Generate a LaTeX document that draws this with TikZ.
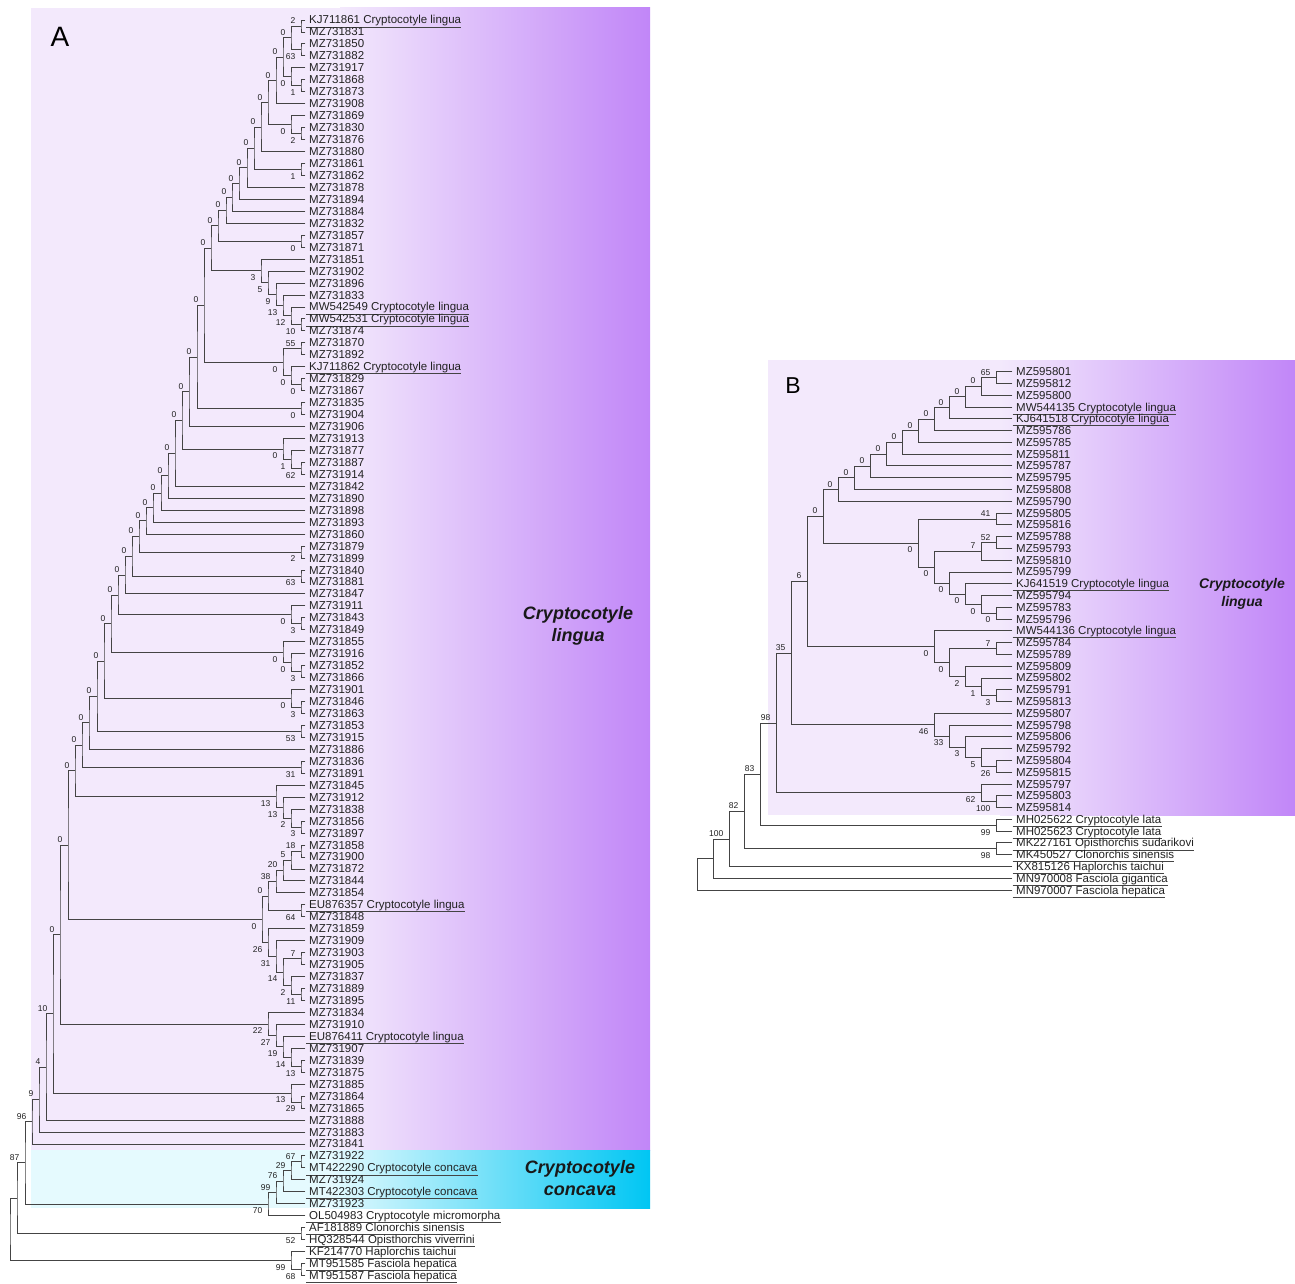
\documentclass[tikz,border=0pt]{standalone}
\usepackage{fontspec}
\setmainfont{Liberation Sans}
\usetikzlibrary{calc}
\definecolor{lavL}{HTML}{F3E9FC}
\definecolor{lavR}{HTML}{C186F8}
\definecolor{cyL}{HTML}{E5FAFE}
\definecolor{cyR}{HTML}{00C6F3}
\definecolor{txt}{HTML}{222222}
\definecolor{lc}{HTML}{444444}
\tikzset{
 lf/.style={anchor=base west, inner sep=0pt, font=\fontsize{11.5}{12}\selectfont, text=txt},
 br/.style={draw=lc, line width=0.9pt, line cap=rect},
 uline/.style={draw=lc, line width=0.75pt},
 bsa/.style={anchor=base east, inner sep=0pt, font=\fontsize{8.5}{9}\selectfont, text=txt, xshift=-5.5pt, yshift=2.5pt},
 bsb/.style={anchor=base east, inner sep=0pt, font=\fontsize{8.5}{9}\selectfont, text=txt, xshift=-5.5pt, yshift=-9.8pt},
 clab/.style={align=center, inner sep=0pt, text=black!90},
}
\newcommand\leafA[2]{\coordinate (tA#1) at (305,{20+(#1-1)*11.957});
  \node[lf] (A#1) at ($(tA#1)+(4,4)$) {#2};}
\newcommand\leafAu[2]{\leafA{#1}{#2}\draw[uline] ($(A#1.base west)+(-3,3)$) -- ($(A#1.base east)+(0,3)$);}
\newcommand\leafB[2]{\coordinate (tB#1) at (1012,{371.7+(#1-1)*11.78});
  \node[lf] (B#1) at ($(tB#1)+(4,4)$) {#2};}
\newcommand\leafBu[2]{\leafB{#1}{#2}\draw[uline] ($(B#1.base west)+(-3.5,3)$) -- ($(B#1.base east)+(0,3)$);}
\newcommand\TN[6]{%
 \path ($(#3)!0.5!(#4)$) coordinate (m#1) (#2,0) coordinate (x#1);
 \coordinate (#1) at (m#1 -| x#1);
 \draw[br] (#3) -| (#1) |- (#4);
 \node[bs#6] (l#1) at (#1) {#5};}
\newcommand\TNn[4]{%
 \path ($(#3)!0.5!(#4)$) coordinate (m#1) (#2,0) coordinate (x#1);
 \coordinate (#1) at (m#1 -| x#1);
 \draw[br] (#3) -| (#1) |- (#4);}
\begin{document}
\begin{tikzpicture}[x=1pt,y=-1pt]
\useasboundingbox (0,0) rectangle (1295,1284);
\fill[white] (0,0) rectangle (1295,1284);
% ---------- backgrounds ----------
\fill[lavL] (31,8) rectangle (341,1150);
\shade[left color=lavL, right color=lavR] (340,8) rectangle (650,1150);
\fill[cyL] (31,1150) rectangle (331,1208);
\shade[left color=cyL, right color=cyR] (330,1150) rectangle (650,1208);
\fill[lavL] (768,360) rectangle (1001,815);
\shade[left color=lavL, right color=lavR] (1000,360) rectangle (1295,815);
% ---------- labels ----------
\node[font=\fontsize{28}{30}\selectfont, text=black] (labA) at (60,37) {A};
\node[font=\fontsize{23}{25}\selectfont, text=black] (labB) at (793,386) {B};
\node[clab, font=\fontsize{18}{22}\selectfont\bfseries\itshape] (cladeA1) at (578,626) {Cryptocotyle\\lingua};
\node[clab, font=\fontsize{18}{22}\selectfont\bfseries\itshape] (cladeA2) at (580,1178) {Cryptocotyle\\concava};
\node[clab, font=\fontsize{14}{18}\selectfont\bfseries\itshape] (cladeB1) at (1242,594) {Cryptocotyle\\lingua};
% ---------- tree A leaves ----------
\leafAu{1}{KJ711861 Cryptocotyle lingua}
\leafA{2}{MZ731831}
\leafA{3}{MZ731850}
\leafA{4}{MZ731882}
\leafA{5}{MZ731917}
\leafA{6}{MZ731868}
\leafA{7}{MZ731873}
\leafA{8}{MZ731908}
\leafA{9}{MZ731869}
\leafA{10}{MZ731830}
\leafA{11}{MZ731876}
\leafA{12}{MZ731880}
\leafA{13}{MZ731861}
\leafA{14}{MZ731862}
\leafA{15}{MZ731878}
\leafA{16}{MZ731894}
\leafA{17}{MZ731884}
\leafA{18}{MZ731832}
\leafA{19}{MZ731857}
\leafA{20}{MZ731871}
\leafA{21}{MZ731851}
\leafA{22}{MZ731902}
\leafA{23}{MZ731896}
\leafA{24}{MZ731833}
\leafAu{25}{MW542549 Cryptocotyle lingua}
\leafAu{26}{MW542531 Cryptocotyle lingua}
\leafA{27}{MZ731874}
\leafA{28}{MZ731870}
\leafA{29}{MZ731892}
\leafAu{30}{KJ711862 Cryptocotyle lingua}
\leafA{31}{MZ731829}
\leafA{32}{MZ731867}
\leafA{33}{MZ731835}
\leafA{34}{MZ731904}
\leafA{35}{MZ731906}
\leafA{36}{MZ731913}
\leafA{37}{MZ731877}
\leafA{38}{MZ731887}
\leafA{39}{MZ731914}
\leafA{40}{MZ731842}
\leafA{41}{MZ731890}
\leafA{42}{MZ731898}
\leafA{43}{MZ731893}
\leafA{44}{MZ731860}
\leafA{45}{MZ731879}
\leafA{46}{MZ731899}
\leafA{47}{MZ731840}
\leafA{48}{MZ731881}
\leafA{49}{MZ731847}
\leafA{50}{MZ731911}
\leafA{51}{MZ731843}
\leafA{52}{MZ731849}
\leafA{53}{MZ731855}
\leafA{54}{MZ731916}
\leafA{55}{MZ731852}
\leafA{56}{MZ731866}
\leafA{57}{MZ731901}
\leafA{58}{MZ731846}
\leafA{59}{MZ731863}
\leafA{60}{MZ731853}
\leafA{61}{MZ731915}
\leafA{62}{MZ731886}
\leafA{63}{MZ731836}
\leafA{64}{MZ731891}
\leafA{65}{MZ731845}
\leafA{66}{MZ731912}
\leafA{67}{MZ731838}
\leafA{68}{MZ731856}
\leafA{69}{MZ731897}
\leafA{70}{MZ731858}
\leafA{71}{MZ731900}
\leafA{72}{MZ731872}
\leafA{73}{MZ731844}
\leafA{74}{MZ731854}
\leafAu{75}{EU876357 Cryptocotyle lingua}
\leafA{76}{MZ731848}
\leafA{77}{MZ731859}
\leafA{78}{MZ731909}
\leafA{79}{MZ731903}
\leafA{80}{MZ731905}
\leafA{81}{MZ731837}
\leafA{82}{MZ731889}
\leafA{83}{MZ731895}
\leafA{84}{MZ731834}
\leafA{85}{MZ731910}
\leafAu{86}{EU876411 Cryptocotyle lingua}
\leafA{87}{MZ731907}
\leafA{88}{MZ731839}
\leafA{89}{MZ731875}
\leafA{90}{MZ731885}
\leafA{91}{MZ731864}
\leafA{92}{MZ731865}
\leafA{93}{MZ731888}
\leafA{94}{MZ731883}
\leafA{95}{MZ731841}
\leafA{96}{MZ731922}
\leafAu{97}{MT422290 Cryptocotyle concava}
\leafA{98}{MZ731924}
\leafAu{99}{MT422303 Cryptocotyle concava}
\leafA{100}{MZ731923}
\leafAu{101}{OL504983 Cryptocotyle micromorpha}
\leafAu{102}{AF181889 Clonorchis sinensis}
\leafAu{103}{HQ328544 Opisthorchis viverrini}
\leafAu{104}{KF214770 Haplorchis taichui}
\leafAu{105}{MT951585 Fasciola hepatica}
\leafAu{106}{MT951587 Fasciola hepatica}
% ---------- tree A internal ----------
\TN{a1}{301}{tA1}{tA2}{2}{a}
\TN{a2}{301}{tA3}{tA4}{63}{b}
\TN{a3}{291}{a1}{a2}{0}{a}
\TN{a4}{301}{tA6}{tA7}{1}{b}
\TN{a5}{291}{tA5}{a4}{0}{b}
\TN{a6}{283}{a3}{a5}{0}{a}
\TN{a7}{276}{a6}{tA8}{0}{a}
\TN{a8}{301}{tA10}{tA11}{2}{b}
\TN{a9}{291}{tA9}{a8}{0}{b}
\TN{a10}{268}{a7}{a9}{0}{a}
\TN{a11}{261}{a10}{tA12}{0}{a}
\TN{a12}{301}{tA13}{tA14}{1}{b}
\TN{a13}{254}{a11}{a12}{0}{a}
\TN{a14}{247}{a13}{tA15}{0}{a}
\TN{a15}{239}{a14}{tA16}{0}{a}
\TN{a16}{232}{a15}{tA17}{0}{a}
\TN{a17}{226}{a16}{tA18}{0}{a}
\TN{a18}{301}{tA19}{tA20}{0}{b}
\TN{a19}{218}{a17}{a18}{0}{a}
\TN{a21}{301}{tA26}{tA27}{10}{b}
\TN{a22}{291}{tA25}{a21}{12}{b}
\TN{a23}{283}{tA24}{a22}{13}{b}
\TN{a24}{276}{tA23}{a23}{9}{b}
\TN{a25}{268}{tA22}{a24}{5}{b}
\TN{a26}{261}{tA21}{a25}{3}{b}
\TN{a27}{211}{a19}{a26}{0}{a}
\TN{a28}{301}{tA28}{tA29}{55}{a}
\TN{a29}{301}{tA31}{tA32}{0}{b}
\TN{a30}{291}{tA30}{a29}{0}{b}
\TN{a31}{283}{a28}{a30}{0}{b}
\TN{a32}{204}{a27}{a31}{0}{a}
\TN{a33}{301}{tA33}{tA34}{0}{b}
\TN{a34}{197}{a32}{a33}{0}{a}
\TN{a35}{189}{a34}{tA35}{0}{a}
\TN{a36}{301}{tA38}{tA39}{62}{b}
\TN{a37}{291}{tA37}{a36}{1}{b}
\TN{a38}{283}{tA36}{a37}{0}{b}
\TN{a39}{182}{a35}{a38}{0}{a}
\TN{a40}{175}{a39}{tA40}{0}{a}
\TN{a41}{168}{a40}{tA41}{0}{a}
\TN{a42}{161}{a41}{tA42}{0}{a}
\TN{a43}{153}{a42}{tA43}{0}{a}
\TN{a44}{146}{a43}{tA44}{0}{a}
\TN{a45}{301}{tA45}{tA46}{2}{b}
\TN{a46}{139}{a44}{a45}{0}{a}
\TN{a47}{301}{tA47}{tA48}{63}{b}
\TN{a48}{132}{a46}{a47}{0}{a}
\TN{a49}{125}{a48}{tA49}{0}{a}
\TN{a50}{301}{tA51}{tA52}{3}{b}
\TN{a51}{291}{tA50}{a50}{0}{b}
\TN{a52}{118}{a49}{a51}{0}{a}
\TN{a53}{301}{tA55}{tA56}{3}{b}
\TN{a54}{291}{tA54}{a53}{0}{b}
\TN{a55}{283}{tA53}{a54}{0}{b}
\TN{a56}{111}{a52}{a55}{0}{a}
\TN{a57}{301}{tA58}{tA59}{3}{b}
\TN{a58}{291}{tA57}{a57}{0}{b}
\TN{a59}{104}{a56}{a58}{0}{a}
\TN{a60}{301}{tA60}{tA61}{53}{b}
\TN{a61}{97}{a59}{a60}{0}{a}
\TN{a62}{89}{a61}{tA62}{0}{a}
\TN{a63}{301}{tA63}{tA64}{31}{b}
\TN{a64}{82}{a62}{a63}{0}{a}
\TN{a65}{301}{tA68}{tA69}{3}{b}
\TN{a66}{291}{tA67}{a65}{2}{b}
\TN{a67}{283}{tA66}{a66}{13}{b}
\TN{a68}{276}{tA65}{a67}{13}{b}
\TN{a69}{75}{a64}{a68}{0}{a}
\TN{a70}{301}{tA70}{tA71}{18}{a}
\TN{a71}{291}{a70}{tA72}{5}{a}
\TN{a72}{283}{a71}{tA73}{20}{a}
\TN{a73}{276}{a72}{tA74}{38}{a}
\TN{a74}{301}{tA75}{tA76}{64}{b}
\TN{a75}{268}{a73}{a74}{0}{a}
\TN{a76}{301}{tA79}{tA80}{7}{a}
\TN{a77}{301}{tA82}{tA83}{11}{b}
\TN{a78}{291}{tA81}{a77}{2}{b}
\TN{a79}{283}{a76}{a78}{14}{b}
\TN{a80}{276}{tA78}{a79}{31}{b}
\TN{a81}{268}{tA77}{a80}{26}{b}
\TN{a82}{262}{a75}{a81}{0}{b}
\TN{a83}{68}{a69}{a82}{0}{a}
\TN{a84}{301}{tA88}{tA89}{13}{b}
\TN{a85}{291}{tA87}{a84}{14}{b}
\TN{a86}{283}{tA86}{a85}{19}{b}
\TN{a87}{276}{tA85}{a86}{27}{b}
\TN{a88}{268}{tA84}{a87}{22}{b}
\TN{a89}{60}{a83}{a88}{0}{a}
\TN{a90}{301}{tA91}{tA92}{29}{b}
\TN{a91}{291}{tA90}{a90}{13}{b}
\TN{a92}{53}{a89}{a91}{10}{a}
\TN{a93}{46}{a92}{tA93}{4}{a}
\TN{a94}{39}{a93}{tA94}{9}{a}
\TN{a95}{32}{a94}{tA95}{96}{a}
\TN{a96}{301}{tA96}{tA97}{67}{a}
\TN{a97}{291}{a96}{tA98}{29}{a}
\TN{a98}{283}{a97}{tA99}{76}{a}
\TN{a99}{276}{a98}{tA100}{99}{a}
\TN{a100}{268}{a99}{tA101}{70}{b}
\TN{a101}{25}{a95}{a100}{87}{a}
\TN{a102}{301}{tA102}{tA103}{52}{b}
\TNn{a103}{17}{a101}{a102}
\TN{a104}{301}{tA105}{tA106}{68}{b}
\TN{a105}{291}{tA104}{a104}{99}{b}
\TNn{a106}{10}{a103}{a105}
% ---------- tree B leaves ----------
\leafB{1}{MZ595801}
\leafB{2}{MZ595812}
\leafB{3}{MZ595800}
\leafBu{4}{MW544135 Cryptocotyle lingua}
\leafBu{5}{KJ641518 Cryptocotyle lingua}
\leafB{6}{MZ595786}
\leafB{7}{MZ595785}
\leafB{8}{MZ595811}
\leafB{9}{MZ595787}
\leafB{10}{MZ595795}
\leafB{11}{MZ595808}
\leafB{12}{MZ595790}
\leafB{13}{MZ595805}
\leafB{14}{MZ595816}
\leafB{15}{MZ595788}
\leafB{16}{MZ595793}
\leafB{17}{MZ595810}
\leafB{18}{MZ595799}
\leafBu{19}{KJ641519 Cryptocotyle lingua}
\leafB{20}{MZ595794}
\leafB{21}{MZ595783}
\leafB{22}{MZ595796}
\leafBu{23}{MW544136 Cryptocotyle lingua}
\leafB{24}{MZ595784}
\leafB{25}{MZ595789}
\leafB{26}{MZ595809}
\leafB{27}{MZ595802}
\leafB{28}{MZ595791}
\leafB{29}{MZ595813}
\leafB{30}{MZ595807}
\leafB{31}{MZ595798}
\leafB{32}{MZ595806}
\leafB{33}{MZ595792}
\leafB{34}{MZ595804}
\leafB{35}{MZ595815}
\leafB{36}{MZ595797}
\leafB{37}{MZ595803}
\leafB{38}{MZ595814}
\leafBu{39}{MH025622 Cryptocotyle lata}
\leafBu{40}{MH025623 Cryptocotyle lata}
\leafBu{41}{MK227161 Opisthorchis sudarikovi}
\leafBu{42}{MK450527 Clonorchis sinensis}
\leafBu{43}{KX815126 Haplorchis taichui}
\leafBu{44}{MN970008 Fasciola gigantica}
\leafBu{45}{MN970007 Fasciola hepatica}
% ---------- tree B internal ----------
\TN{b1}{996}{tB1}{tB2}{65}{a}
\TN{b2}{981}{b1}{tB3}{0}{a}
\TN{b3}{965}{b2}{tB4}{0}{a}
\TN{b4}{949}{b3}{tB5}{0}{a}
\TN{b5}{934}{b4}{tB6}{0}{a}
\TN{b6}{918}{b5}{tB7}{0}{a}
\TN{b7}{902}{b6}{tB8}{0}{a}
\TN{b8}{886}{b7}{tB9}{0}{a}
\TN{b9}{870}{b8}{tB10}{0}{a}
\TN{b10}{854}{b9}{tB11}{0}{a}
\TN{b11}{838}{b10}{tB12}{0}{a}
\TN{b12}{996}{tB13}{tB14}{41}{a}
\TN{b13}{996}{tB15}{tB16}{52}{a}
\TN{b14}{981}{b13}{tB17}{7}{a}
\TN{b15}{996}{tB21}{tB22}{0}{b}
\TN{b16}{981}{tB20}{b15}{0}{b}
\TN{b17}{965}{tB19}{b16}{0}{b}
\TN{b18}{949}{tB18}{b17}{0}{b}
\TN{b19}{934}{b14}{b18}{0}{b}
\TN{b20}{918}{b12}{b19}{0}{b}
\TN{b21}{823}{b11}{b20}{0}{a}
\TN{b22}{996}{tB24}{tB25}{7}{a}
\TN{b23}{996}{tB28}{tB29}{3}{b}
\TN{b24}{981}{tB27}{b23}{1}{b}
\TN{b25}{965}{tB26}{b24}{2}{b}
\TN{b26}{949}{b22}{b25}{0}{b}
\TN{b27}{934}{tB23}{b26}{0}{b}
\TN{b28}{807}{b21}{b27}{6}{a}
\TN{b29}{996}{tB34}{tB35}{26}{b}
\TN{b30}{981}{tB33}{b29}{5}{b}
\TN{b31}{965}{tB32}{b30}{3}{b}
\TN{b32}{949}{tB31}{b31}{33}{b}
\TN{b33}{934}{tB30}{b32}{46}{b}
\TN{b34}{791}{b28}{b33}{35}{a}
\TN{b35}{996}{tB37}{tB38}{100}{b}
\TN{b36}{981}{tB36}{b35}{62}{b}
\TN{b37}{776}{b34}{b36}{98}{a}
\TN{b38}{996}{tB39}{tB40}{99}{b}
\TN{b39}{760}{b37}{b38}{83}{a}
\TN{b40}{996}{tB41}{tB42}{98}{b}
\TN{b41}{744}{b39}{b40}{82}{a}
\TN{b42}{729}{b41}{tB43}{100}{a}
\TNn{b43}{713}{b42}{tB44}
\TNn{b44}{697}{b43}{tB45}
\end{tikzpicture}
\end{document}
